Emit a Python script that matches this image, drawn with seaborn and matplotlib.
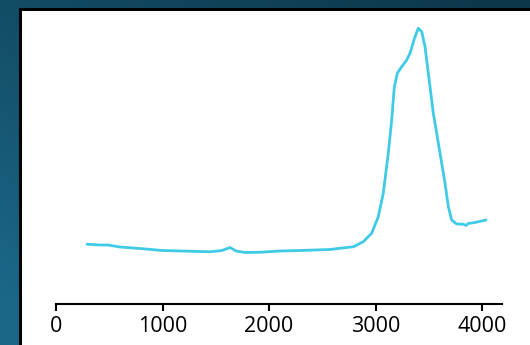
import numpy as np
import pandas as pd
import matplotlib
matplotlib.use("Agg")
import matplotlib.pyplot as plt
import seaborn as sns
from matplotlib.patches import Rectangle
from matplotlib.colors import to_rgb

# ---- data ----
wavenumber = [291, 413, 488, 600, 789, 1000, 1258, 1446, 1559, 1634, 1690, 1775,
              1915, 2103, 2291, 2573, 2667, 2792, 2885, 2964, 3026, 3073, 3120,
              3152, 3177, 3205, 3246, 3293, 3324, 3371, 3402, 3434, 3465, 3496,
              3543, 3606, 3653, 3684, 3715, 3762, 3824, 3850, 3870, 3935, 4038]
absorbance = [0.223, 0.220, 0.220, 0.212, 0.206, 0.198, 0.195, 0.193, 0.198, 0.210,
              0.196, 0.190, 0.191, 0.196, 0.198, 0.202, 0.207, 0.213, 0.233, 0.267,
              0.333, 0.427, 0.587, 0.720, 0.853, 0.907, 0.933, 0.960, 0.987, 1.053,
              1.087, 1.073, 1.013, 0.907, 0.747, 0.587, 0.467, 0.373, 0.320, 0.304,
              0.303, 0.298, 0.306, 0.310, 0.320]
xticks = [0, 1000, 2000, 3000, 4000]

df = pd.DataFrame({"wavenumber": wavenumber, "absorbance": absorbance})

W, H, DPI = 530, 345, 100
sns.set_theme(style="white")
plt.rcParams["font.family"] = ["Open Sans", "DejaVu Sans"]

fig = plt.figure(figsize=(W / DPI, H / DPI), dpi=DPI)

# background gradient + white panel (pixel coordinates, origin top-left)
bg = fig.add_axes([0, 0, 1, 1], zorder=0)
bg.set_axis_off()
yy, xx = np.mgrid[0:1:200j, 0:1:300j]
t = np.clip(0.65 * yy + 0.45 * (1 - xx), 0, 1)[..., None]
c0 = np.array(to_rgb("#0c3649"))
c1 = np.array(to_rgb("#1b6788"))
img = c0 * (1 - t) + c1 * t
bg.imshow(img, extent=[0, W, H, 0], aspect="auto")
bg.set_xlim(0, W)
bg.set_ylim(H, 0)
bg.add_patch(Rectangle((20, 9), W + 20, H + 20, facecolor="white",
                       edgecolor="black", linewidth=2.2, zorder=2))

# main axes
left, right_px = 56, 56 + 4190 * 0.1065
top_px, bot_px = 20, 304
ax = fig.add_axes([left / W, (H - bot_px) / H, (right_px - left) / W,
                   (bot_px - top_px) / H], zorder=1)
ax.patch.set_alpha(0)
sns.lineplot(data=df, x="wavenumber", y="absorbance", ax=ax,
             color="#3fcbe6", linewidth=2.0, solid_joinstyle="round",
             solid_capstyle="round")
ax.set_xlim(0, 4190)
ax.set_ylim(-0.016, 1.12)
ax.set_xticks(xticks)
ax.set_xticklabels([str(v) for v in xticks], fontsize=15.5, color="black")
ax.set_yticks([])
ax.set_xlabel("")
ax.set_ylabel("")
for s in ["top", "right", "left"]:
    ax.spines[s].set_visible(False)
ax.spines["bottom"].set_color("black")
ax.spines["bottom"].set_linewidth(1.5)
ax.tick_params(axis="x", direction="out", length=5, width=1.5, color="black",
               bottom=True, pad=4)

fig.savefig("out.png", dpi=DPI)
